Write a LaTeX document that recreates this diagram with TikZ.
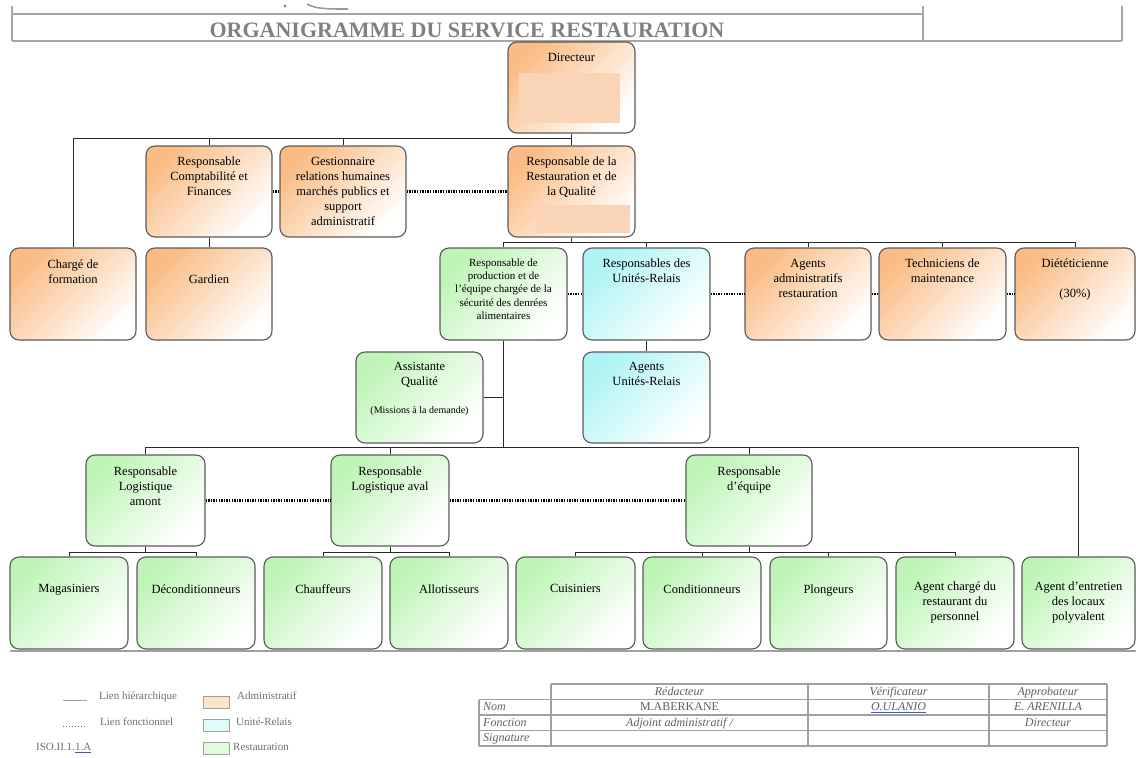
\documentclass[tikz,border=0pt]{standalone}
\usepackage{fontspec}
\setmainfont{Liberation Serif}
\definecolor{orgc}{RGB}{250,188,132}
\definecolor{grnc}{RGB}{190,245,182}
\definecolor{cyac}{RGB}{174,244,244}
\definecolor{bordc}{RGB}{90,90,90}
\definecolor{pinkc}{RGB}{250,212,182}
\definecolor{linec}{RGB}{40,40,40}
\definecolor{hdrc}{RGB}{165,165,165}
\definecolor{titc}{RGB}{128,128,128}
\definecolor{legc}{RGB}{110,110,110}
\definecolor{tabc}{RGB}{95,95,95}
\definecolor{tabl}{RGB}{160,160,160}
\definecolor{linkblue}{RGB}{60,90,200}
\definecolor{legor}{RGB}{253,228,205}
\definecolor{legcy}{RGB}{224,251,251}
\definecolor{leggr}{RGB}{226,250,222}
\newcommand\OB[6]{\node[#2, minimum width=#5pt, minimum height=#6pt] (#1) at (#3,#4) {};}
\newcommand\OT[4]{\node[txt,#4] (#1t) at ([yshift=-#2pt]#1.north) {#3};}
\tikzset{
  boxbase/.style={rounded corners=9pt, draw=bordc, line width=1.1pt, inner sep=0pt},
  obox/.style={boxbase, top color=orgc, bottom color=white, shading angle=45},
  gbox/.style={boxbase, top color=grnc, bottom color=white, shading angle=45},
  cbox/.style={boxbase, top color=cyac, bottom color=white, shading angle=45},
  txt/.style={inner sep=0pt, align=center, anchor=north, text=black, font=\fontsize{12.5}{15}\selectfont},
  smalltxt/.style={font=\fontsize{11}{13.3}\selectfont},
  conn/.style={draw=linec, line width=1pt},
  fconn/.style={draw=black, line width=2.2pt, dash pattern=on 1.4pt off 1.2pt},
  hdr/.style={draw=hdrc, line width=1.3pt},
  tabline/.style={draw=tabl, line width=1.2pt},
  legtxt/.style={inner sep=0pt, anchor=west, text=legc, font=\fontsize{11}{13}\selectfont, text height=8pt, text depth=2.5pt},
  tabtxt/.style={inner sep=0pt, text=tabc, font=\fontsize{12}{14}\selectfont\itshape, text height=8.5pt, text depth=2.5pt},
}
\begin{document}
\begin{tikzpicture}[x=1pt,y=-1pt]
\useasboundingbox (0,0) rectangle (1136,758);
% header
\draw[hdr] (12,14) -- (923,14);
\draw[hdr] (12,6) -- (12,41);
\draw[hdr] (923,6) -- (923,41);
\draw[hdr] (1122,6) -- (1122,41);
\draw[hdr] (12,41) -- (1122,41);
\fill[gray] (285,6) circle (1.6);
\draw[gray!80, line width=1.6pt] (307,4) .. controls (315,9) and (328,9) .. (348,9);
\node[inner sep=0pt, anchor=base, text=titc, font=\fontsize{22}{24}\selectfont\bfseries] (title) at (467,37) {ORGANIGRAMME DU SERVICE RESTAURATION};
% boxes
\OB{dir}{obox}{571.5}{87.5}{127}{91}
\OB{compta}{obox}{209}{191.5}{126}{91}
\OB{gest}{obox}{343}{191.5}{126}{91}
\OB{rest}{obox}{571.5}{191.5}{127}{91}
\OB{charge}{obox}{73}{294}{126}{92}
\OB{gardien}{obox}{209}{294}{126}{92}
\OB{prod}{gbox}{503.5}{294}{127}{92}
\OB{ur}{cbox}{646.5}{294}{127}{92}
\OB{agadm}{obox}{808}{294}{126}{92}
\OB{tech}{obox}{942.5}{294}{127}{92}
\OB{diet}{obox}{1075}{294}{120}{92}
\OB{agur}{cbox}{646.5}{397.5}{127}{91}
\OB{assist}{gbox}{419.5}{397.5}{127}{91}
\OB{amont}{gbox}{145.5}{500.5}{119}{91}
\OB{aval}{gbox}{390}{500.5}{118}{91}
\OB{equipe}{gbox}{749}{500.5}{126}{91}
\OB{mag}{gbox}{69}{603}{118}{92}
\OB{decond}{gbox}{196}{603}{118}{92}
\OB{chauff}{gbox}{323}{603}{118}{92}
\OB{allot}{gbox}{449}{603}{118}{92}
\OB{cuis}{gbox}{575.5}{603}{119}{92}
\OB{cond}{gbox}{702}{603}{118}{92}
\OB{plong}{gbox}{828.5}{603}{117}{92}
\OB{agch}{gbox}{955}{603}{118}{92}
\OB{entr}{gbox}{1078.5}{603}{113}{92}
% pink masks
\fill[pinkc] (519,73) rectangle (620,123);
\fill[pinkc] (536,205) rectangle (630,233);
% texts
\OT{dir}{11.5}{Directeur}{}
\OT{compta}{11.5}{Responsable\\Comptabilité et\\Finances}{}
\OT{gest}{11.5}{Gestionnaire\\relations humaines\\marchés publics et\\support\\administratif}{}
\OT{rest}{11.5}{Responsable de la\\Restauration et de\\la Qualité}{}
\OT{charge}{12.5}{Chargé de\\formation}{}
\OT{gardien}{27.5}{Gardien}{}
\OT{prod}{11}{Responsable de\\production et de\\l’équipe chargée de la\\sécurité des denrées\\alimentaires}{smalltxt}
\OT{ur}{11.5}{Responsables des\\Unités-Relais}{}
\OT{agadm}{11.5}{Agents\\administratifs\\restauration}{}
\OT{tech}{11.5}{Techniciens de\\maintenance}{}
\OT{diet}{11.5}{Diététicienne\\[15pt](30\%)}{}
\OT{agur}{11}{Agents\\Unités-Relais}{}
\OT{assist}{11}{Assistante\\Qualité\\[13pt]{\fontsize{10}{12}\selectfont(Missions à la demande)}}{}
\OT{amont}{12.5}{Responsable\\Logistique\\amont}{}
\OT{aval}{12.5}{Responsable\\Logistique aval}{}
\OT{equipe}{12.5}{Responsable\\d’équipe}{}
\OT{mag}{28}{Magasiniers}{}
\OT{decond}{28}{Déconditionneurs}{}
\OT{chauff}{28}{Chauffeurs}{}
\OT{allot}{28}{Allotisseurs}{}
\OT{cuis}{28}{Cuisiniers}{}
\OT{cond}{28}{Conditionneurs}{}
\OT{plong}{28}{Plongeurs}{}
\OT{agch}{25.5}{Agent chargé du\\restaurant du\\personnel}{}
\OT{entr}{25.5}{Agent d’entretien\\des locaux\\polyvalent}{}
% hierarchical links
\coordinate (b0) at (571.5,138);
\draw[conn] (dir.south) -- (b0);
\draw[conn] (b0) -| (charge.north);
\draw[conn] (b0) -| (compta.north);
\draw[conn] (b0) -| (gest.north);
\draw[conn] (b0) -- (rest.north);
\draw[conn] (compta.south) -- (gardien.north);
\coordinate (b1) at (571.5,242);
\draw[conn] (rest.south) -- (b1);
\draw[conn] (b1) -| (prod.north);
\draw[conn] (b1) -| (ur.north);
\draw[conn] (b1) -| (agadm.north);
\draw[conn] (b1) -| (tech.north);
\draw[conn] (b1) -| (diet.north);
\draw[conn] (ur.south) -- (agur.north);
\coordinate (b2) at (503.5,447.5);
\draw[conn] (prod.south) -- (b2);
\draw[conn] (assist.east) -- (assist.east -| b2);
\draw[conn] (b2) -| (amont.north);
\draw[conn] (b2) -| (aval.north);
\draw[conn] (b2) -| (equipe.north);
\draw[conn] (b2) -| (entr.north);
\coordinate (b3) at (145.5,552);
\draw[conn] (amont.south) -- (b3);
\draw[conn] (b3) -| (mag.north);
\draw[conn] (b3) -| (decond.north);
\coordinate (b4) at (390,552);
\draw[conn] (aval.south) -- (b4);
\draw[conn] (b4) -| (chauff.north);
\draw[conn] (b4) -| (allot.north);
\coordinate (b5) at (749,552);
\draw[conn] (equipe.south) -- (b5);
\draw[conn] (b5) -| (cuis.north);
\draw[conn] (b5) -| (cond.north);
\draw[conn] (b5) -| (plong.north);
\draw[conn] (b5) -| (agch.north);
% functional links
\draw[fconn] (compta.east) -- (gest.west);
\draw[fconn] (gest.east) -- (rest.west);
\draw[fconn] (prod.east) -- (ur.west);
\draw[fconn] (ur.east) -- (agadm.west);
\draw[fconn] (agadm.east) -- (tech.west);
\draw[fconn] (tech.east) -- (diet.west);
\draw[fconn] (amont.east) -- (aval.west);
\draw[fconn] (aval.east) -- (equipe.west);
% bottom rule
\draw[draw=tabl, line width=1.6pt] (10,651) -- (1136,651);
% legend
\coordinate (lh1) at (63,700); \coordinate (lh2) at (87,700);
\draw[draw=tabl, line width=1pt] (lh1) -- (lh2);
\coordinate (lf1) at (63,726); \coordinate (lf2) at (87,726);
\draw[draw=legc, line width=1pt, dash pattern=on 1pt off 2pt] (lf1) -- (lf2);
\node[legtxt] (lhT) at (99,697) {Lien hiérarchique};
\node[legtxt] (lfT) at (100,723) {Lien fonctionnel};
\node[legtxt] (iso) at (36,748) {ISO.II.1.{\color{linkblue}\underline{\color{legc}1.A}}};
\draw[draw=tabl, fill=legor, line width=1pt] (203,696) rectangle (229,708);
\draw[draw=tabl, fill=legcy, line width=1pt] (203,719) rectangle (229,731);
\draw[draw=tabl, fill=leggr, line width=1pt] (203,742) rectangle (229,754);
\node[legtxt] (la) at (237,697) {Administratif};
\node[legtxt] (lu) at (236,723) {Unité-Relais};
\node[legtxt] (lr) at (233,748) {Restauration};
% table
\draw[tabline] (551,684) -- (1107,684);
\foreach \yy in {699.5,715,730.5,746} { \draw[tabline] (479,\yy) -- (1107,\yy); }
\draw[tabline] (479,699.5) -- (479,746);
\foreach \xx in {551,808,989,1107} { \draw[tabline] (\xx,684) -- (\xx,746); }
\node[tabtxt] (h1) at (679.5,692) {Rédacteur};
\node[tabtxt] (h2) at (898.5,692) {Vérificateur};
\node[tabtxt] (h3) at (1048,692) {Approbateur};
\node[tabtxt, anchor=west] (r1) at (483,707.5) {Nom};
\node[tabtxt, font=\fontsize{12}{14}\selectfont] (n1) at (679.5,707.5) {M.ABERKANE};
\node[tabtxt] (n2) at (898.5,707.5) {{\color{linkblue}\underline{\color{tabc}\itshape O.ULANIO}}};
\node[tabtxt] (n3) at (1048,707.5) {E. ARENILLA};
\node[tabtxt, anchor=west] (r2) at (483,723) {Fonction};
\node[tabtxt] (f1) at (679.5,723) {Adjoint administratif /};
\node[tabtxt] (f3) at (1048,723) {Directeur};
\node[tabtxt, anchor=west] (r3) at (483,738.5) {Signature};
\end{tikzpicture}
\end{document}
